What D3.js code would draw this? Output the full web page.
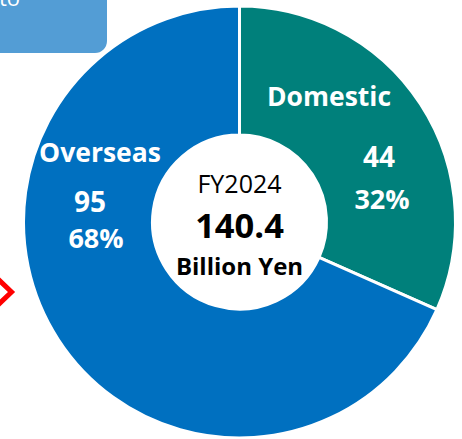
<!DOCTYPE html>
<html>
<head>
<meta charset="utf-8">
<script src="https://cdn.jsdelivr.net/npm/d3@7"></script>
<style>
  html, body { margin: 0; padding: 0; background: #ffffff; }
  svg { display: block; }
  text { font-family: "Open Sans", Lato, sans-serif; }
</style>
</head>
<body>
<svg id="chart" width="462" height="439"></svg>
<script>
// Sales breakdown, FY2024 (billion yen)
const categories = ["Domestic", "Overseas"];
const values = [44, 95];
const shares = ["32%", "68%"];
const totalLabel = "140.4";
const periodLabel = "FY2024";
const unitLabel = "Billion Yen";
const colors = ["#00807B", "#0070C0"];

const width = 462, height = 439;
const cx = 239.5, cy = 222;
const outerR = 216, innerR = 87;

const svg = d3.select("#chart");

// callout box partly outside the frame, top-left
svg.append("rect")
  .attr("x", -20).attr("y", -20)
  .attr("width", 127).attr("height", 73)
  .attr("rx", 12).attr("ry", 12)
  .attr("fill", "#539DD5");
svg.append("text")
  .attr("x", -1).attr("y", 6)
  .attr("fill", "#ffffff")
  .attr("font-size", 22)
  .text("to");

// red arrow outline at left edge
svg.append("path")
  .attr("d", "M-9,272.5 L11.5,292 L-9,311.5")
  .attr("fill", "none")
  .attr("stroke", "#FF0000")
  .attr("stroke-width", 5)
  .attr("stroke-linejoin", "miter");

// donut
const pie = d3.pie().sort(null).value(d => d.value);
const arc = d3.arc().innerRadius(innerR).outerRadius(outerR);
const data = categories.map((c, i) => ({ name: c, value: values[i], share: shares[i], color: colors[i] }));

const g = svg.append("g").attr("transform", `translate(${cx},${cy})`);
g.selectAll("path.slice")
  .data(pie(data))
  .join("path")
  .attr("class", "slice")
  .attr("d", arc)
  .attr("fill", d => d.data.color)
  .attr("stroke", "#ffffff")
  .attr("stroke-width", 3)
  .attr("stroke-linejoin", "round");

// slice labels: name, value, share
const labelPos = [
  { name: [329, 106], value: [379, 167], share: [382, 209] },
  { name: [100, 162], value: [90, 212],  share: [96, 248] }
];
function whiteLabel(x, y, size, str) {
  svg.append("text").attr("x", x).attr("y", y)
    .attr("text-anchor", "middle").attr("fill", "#fff")
    .attr("font-weight", 700).attr("font-size", size).text(str);
}
data.forEach((d, i) => {
  const p = labelPos[i];
  whiteLabel(p.name[0], p.name[1], 26.5, d.name);
  whiteLabel(p.value[0], p.value[1], 28, d.value);
  whiteLabel(p.share[0], p.share[1], 27, d.share);
});

// centre total
svg.append("text").attr("x", cx).attr("y", 193)
  .attr("text-anchor", "middle").attr("fill", "#000")
  .attr("font-size", 25).text(periodLabel);
svg.append("text").attr("x", cx).attr("y", 238)
  .attr("text-anchor", "middle").attr("fill", "#000")
  .attr("font-weight", 700).attr("font-size", 34.5).text(totalLabel);
svg.append("text").attr("x", cx).attr("y", 275)
  .attr("text-anchor", "middle").attr("fill", "#000")
  .attr("font-weight", 700).attr("font-size", 24).text(unitLabel);
</script>
</body>
</html>
